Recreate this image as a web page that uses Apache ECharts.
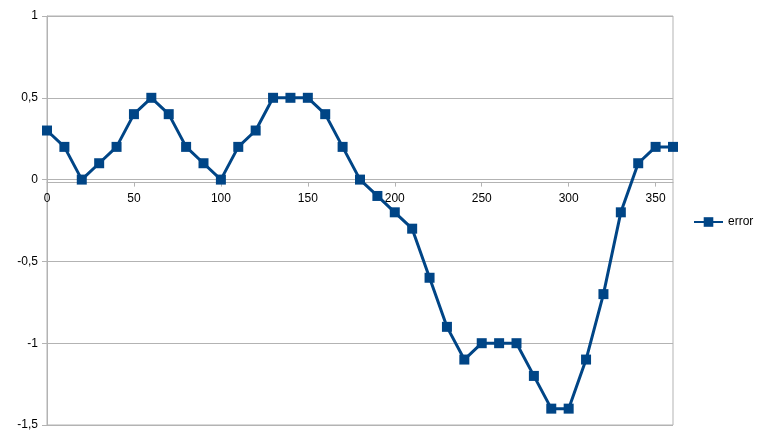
<!DOCTYPE html>
<html><head><meta charset="utf-8">
<script src="https://cdn.jsdelivr.net/npm/echarts@6/dist/echarts.min.js"></script>
<style>html,body{margin:0;padding:0;background:#fff}#c{width:765px;height:442px}</style>
</head><body><div id="c"></div>
<script>
const xValues = [0,10,20,30,40,50,60,70,80,90,100,110,120,130,140,150,160,170,180,190,200,210,220,230,240,250,260,270,280,290,300,310,320,330,340,350,360];
const errorValues = [0.3,0.2,0,0.1,0.2,0.4,0.5,0.4,0.2,0.1,0,0.2,0.3,0.5,0.5,0.5,0.4,0.2,0,-0.1,-0.2,-0.3,-0.6,-0.9,-1.1,-1,-1,-1,-1.2,-1.4,-1.4,-1.1,-0.7,-0.2,0.1,0.2,0.2];
const seriesName = 'error';
const yMin = -1.5, yMax = 1, yStep = 0.5;
const data = xValues.map((x,i)=>[x,errorValues[i]]);
const chart = echarts.init(document.getElementById('c'));
const fnt = 'Liberation Sans, Arial, sans-serif';
chart.setOption({
  animation:false,
  grid:{left:47,right:92,top:16,bottom:17,containLabel:false,show:true,borderWidth:1,borderColor:'#b3b3b3',backgroundColor:'transparent'},
  legend:{show:true,orient:'vertical',left:688,top:211,itemWidth:29,itemHeight:12,itemGap:4,
    textStyle:{fontFamily:fnt,fontSize:12,color:'#000'},data:[seriesName]},
  xAxis:{type:'value',min:0,max:360,interval:50,position:'bottom',
    axisLine:{onZero:false,lineStyle:{color:'#b3b3b3',width:1}},
    axisTick:{show:true,length:4,lineStyle:{color:'#b3b3b3'}},
    axisLabel:{showMaxLabel:false,margin:10,fontFamily:fnt,fontSize:12,color:'#000'},
    splitLine:{show:false}},
  yAxis:{type:'value',min:yMin,max:yMax,interval:yStep,
    axisLine:{show:true,onZero:false,lineStyle:{color:'#b3b3b3',width:1}},
    axisTick:{show:true,length:5,lineStyle:{color:'#b3b3b3'}},
    axisLabel:{margin:9,fontFamily:fnt,fontSize:12,color:'#000',formatter:v=>String(v).replace('.',',')},
    splitLine:{show:true,lineStyle:{color:'#b3b3b3',width:1}}},
  series:[{name:seriesName,type:'line',data:data,
    symbol:'rect',symbolSize:10,
    lineStyle:{color:'#004586',width:3},
    itemStyle:{color:'#004586'}}]
});
// place the x axis on y = 0 using the library's own y scale
const pZero = chart.convertToPixel({yAxisIndex:0}, 0);
const pBottom = chart.convertToPixel({yAxisIndex:0}, yMin);
chart.setOption({xAxis:{offset:-(pBottom - pZero)}});
</script></body></html>
